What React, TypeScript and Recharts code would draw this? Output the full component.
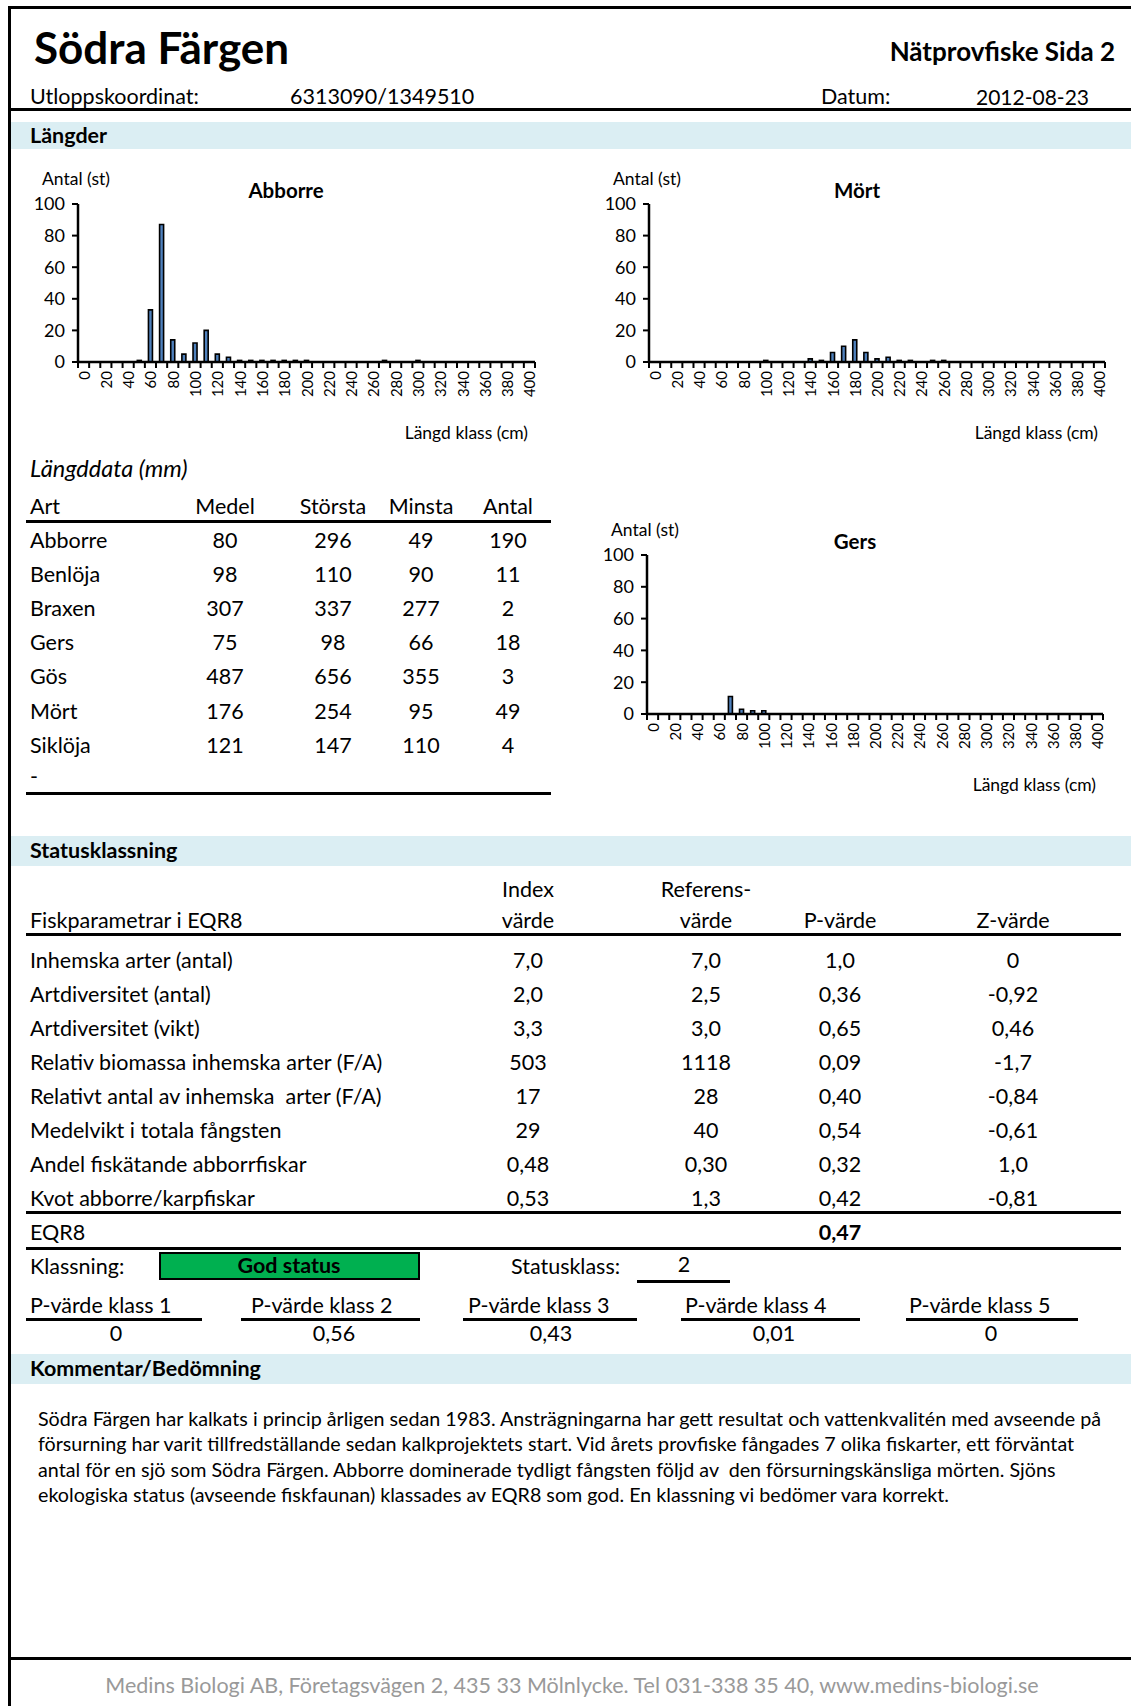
import React from 'react';
import { BarChart, Bar, XAxis, YAxis } from 'recharts';

const FONT = 'Lato, "Open Sans", sans-serif';

// längdklasser (x-axeln)
const lengthClasses = [
  0, 10, 20, 30, 40, 50, 60, 70, 80, 90, 100, 110, 120, 130, 140, 150, 160, 170, 180, 190, 200,
  210, 220, 230, 240, 250, 260, 270, 280, 290, 300, 310, 320, 330, 340, 350, 360, 370, 380, 390, 400,
];

const abborreCounts = [
  0, 0, 0, 0, 0, 1, 33, 87, 14, 5, 12, 20, 5, 3, 1, 1, 1, 1, 1, 1, 1,
  0, 0, 0, 0, 0, 0, 1, 0, 0, 1, 0, 0, 0, 0, 0, 0, 0, 0, 0, 0,
];
const mortCounts = [
  0, 0, 0, 0, 0, 0, 0, 0, 0, 0, 1, 0, 0, 0, 2, 1, 6, 10, 14, 6, 2,
  3, 1, 1, 0, 1, 1, 0, 0, 0, 0, 0, 0, 0, 0, 0, 0, 0, 0, 0, 0,
];
const gersCounts = [
  0, 0, 0, 0, 0, 0, 0, 11, 3, 2, 2, 0, 0, 0, 0, 0, 0, 0, 0, 0, 0,
  0, 0, 0, 0, 0, 0, 0, 0, 0, 0, 0, 0, 0, 0, 0, 0, 0, 0, 0, 0,
];
const yTicks = [0, 20, 40, 60, 80, 100];

// längddata (mm)
const species = ['Abborre', 'Benlöja', 'Braxen', 'Gers', 'Gös', 'Mört', 'Siklöja'];
const medel = [80, 98, 307, 75, 487, 176, 121];
const storsta = [296, 110, 337, 98, 656, 254, 147];
const minsta = [49, 90, 277, 66, 355, 95, 110];
const antal = [190, 11, 2, 18, 3, 49, 4];

// statusklassning
const params = [
  'Inhemska arter (antal)',
  'Artdiversitet (antal)',
  'Artdiversitet (vikt)',
  'Relativ biomassa inhemska arter (F/A)',
  'Relativt antal av inhemska  arter (F/A)',
  'Medelvikt i totala fångsten',
  'Andel fiskätande abborrfiskar',
  'Kvot abborre/karpfiskar',
];
const indexVarde = ['7,0', '2,0', '3,3', '503', '17', '29', '0,48', '0,53'];
const referensVarde = ['7,0', '2,5', '3,0', '1118', '28', '40', '0,30', '1,3'];
const pVarde = ['1,0', '0,36', '0,65', '0,09', '0,40', '0,54', '0,32', '0,42'];
const zVarde = ['0', '-0,92', '0,46', '-1,7', '-0,84', '-0,61', '1,0', '-0,81'];

const pKlassLabels = ['P-värde klass 1', 'P-värde klass 2', 'P-värde klass 3', 'P-värde klass 4', 'P-värde klass 5'];
const pKlassValues = ['0', '0,56', '0,43', '0,01', '0'];

const commentLines = [
  'Södra Färgen har kalkats i princip årligen sedan 1983. Ansträgningarna har gett resultat och vattenkvalitén med avseende på',
  'försurning har varit tillfredställande sedan kalkprojektets start. Vid årets provfiske fångades 7 olika fiskarter, ett förväntat',
  'antal för en sjö som Södra Färgen. Abborre dominerade tydligt fångsten följd av  den försurningskänsliga mörten. Sjöns',
  'ekologiska status (avseende fiskfaunan) klassades av EQR8 som god. En klassning vi bedömer vara korrekt.',
];

const BODY = 21.5;

const Txt = ({ x, y, children, align = 'left', size = BODY, bold = false, italic = false, color = '#000' }: any) => {
  const tx = align === 'center' ? '-50%' : align === 'right' ? '-100%' : '0';
  return (
    <div
      style={{
        position: 'absolute',
        left: x,
        top: y,
        transform: `translate(${tx}, -50%)`,
        fontSize: size,
        fontWeight: bold ? 700 : 400,
        fontStyle: italic ? 'italic' : 'normal',
        color,
        whiteSpace: 'pre',
        lineHeight: 1.2,
      }}
    >
      {children}
    </div>
  );
};

const HLine = ({ x1, x2, y, w = 3 }: any) => (
  <div style={{ position: 'absolute', left: x1, top: y - w / 2, width: x2 - x1, height: w, background: '#000' }} />
);

const Band = ({ y, h, label }: any) => (
  <>
    <div style={{ position: 'absolute', left: 11, top: y, width: 1120, height: h, background: '#DBEEF3' }} />
    <Txt x={30} y={y + h / 2} size={21.5} bold>
      {label}
    </Txt>
  </>
);

interface FishChartProps {
  title: string;
  counts: number[];
  plotLeft: number;
  plotRight: number;
  plotTop: number;
  plotBottom: number;
}

const FishChart: React.FC<FishChartProps> = ({ title, counts, plotLeft, plotRight, plotTop, plotBottom }) => {
  const data = lengthClasses.map((k, i) => ({ klass: k, antal: counts[i] }));
  const plotW = plotRight - plotLeft;
  const half = plotW / lengthClasses.length / 2;
  const width = plotW + 58 + 5;
  const height = plotBottom - plotTop + 24 + 45;

  const LengthTick = (props: any) => {
    const { x, y, payload, index } = props;
    const show = payload.value % 20 === 0;
    return (
      <g>
        <line x1={x - half} x2={x - half} y1={y} y2={y + 6} stroke="#000" strokeWidth={2} />
        {index === lengthClasses.length - 1 && (
          <line x1={x + half} x2={x + half} y1={y} y2={y + 6} stroke="#000" strokeWidth={2} />
        )}
        {show && (
          <text
            x={x}
            y={y + 9}
            transform={`rotate(-90, ${x}, ${y + 9})`}
            textAnchor="end"
            dominantBaseline="central"
            fontSize={15}
            fontFamily={FONT}
            fill="#000"
          >
            {payload.value}
          </text>
        )}
      </g>
    );
  };

  return (
    <>
      <div style={{ position: 'absolute', left: plotLeft - 58, top: plotTop - 24 }}>
        <BarChart
          width={width}
          height={height}
          data={data}
          margin={{ top: 24, right: 5, left: 10, bottom: 0 }}
          barCategoryGap="32%"
        >
          <XAxis
            dataKey="klass"
            interval={0}
            height={45}
            tickLine={false}
            tickSize={0}
            tickMargin={0}
            axisLine={{ stroke: '#000', strokeWidth: 2.5 }}
            tick={LengthTick}
          />
          <YAxis
            width={48}
            domain={[0, 100]}
            ticks={yTicks}
            interval={0}
            tickSize={6}
            tickMargin={7}
            tickLine={{ stroke: '#000', strokeWidth: 2 }}
            axisLine={{ stroke: '#000', strokeWidth: 2.5 }}
            tick={{ fill: '#000', fontSize: 18, fontFamily: FONT }}
          />
          <Bar dataKey="antal" fill="#4F81BD" stroke="#000" strokeWidth={1.6} isAnimationActive={false} />
        </BarChart>
      </div>
      <Txt x={plotLeft - 36} y={plotTop - 26} size={17.5}>
        Antal (st)
      </Txt>
      <Txt x={plotLeft + 208} y={plotTop - 14} size={20.5} bold align="center">
        {title}
      </Txt>
      <Txt x={plotRight - 7} y={plotBottom + 70} size={17.5} align="right">
        Längd klass (cm)
      </Txt>
    </>
  );
};

const colX = { medel: 225, storsta: 333, minsta: 421, antal: 508 };
const statX = { index: 528, ref: 706, p: 840, z: 1013 };
const pKlassX = [30, 251, 468, 685, 909];
const pKlassLine = [
  [26, 202],
  [241, 420],
  [463, 637],
  [681, 860],
  [906, 1078],
];
const pKlassValX = [116, 334, 551, 774, 991];

export default function App() {
  return (
    <div
      style={{
        position: 'absolute',
        left: 0,
        top: 0,
        width: 1131,
        height: 1706,
        background: '#fff',
        fontFamily: FONT,
        overflow: 'hidden',
      }}
    >
      {/* ram */}
      <div style={{ position: 'absolute', left: 8, top: 6, width: 1123, height: 3, background: '#000' }} />
      <div style={{ position: 'absolute', left: 8, top: 6, width: 3, height: 1700, background: '#000' }} />

      {/* rubrik */}
      <Txt x={34} y={47} size={44} bold>
        Södra Färgen
      </Txt>
      <Txt x={1115} y={52} size={26} bold align="right">
        Nätprovfiske Sida 2
      </Txt>
      <Txt x={30} y={97}>
        Utloppskoordinat:
      </Txt>
      <Txt x={290} y={97}>
        6313090/1349510
      </Txt>
      <Txt x={821} y={97}>
        Datum:
      </Txt>
      <Txt x={1089} y={97} size={21} align="right">
        2012-08-23
      </Txt>
      <HLine x1={8} x2={1131} y={109} w={3} />

      <Band y={122} h={27} label="Längder" />

      <FishChart title="Abborre" counts={abborreCounts} plotLeft={78} plotRight={535} plotTop={204} plotBottom={362} />
      <FishChart title="Mört" counts={mortCounts} plotLeft={649} plotRight={1105} plotTop={204} plotBottom={362} />
      <FishChart title="Gers" counts={gersCounts} plotLeft={647} plotRight={1103} plotTop={555} plotBottom={714} />

      {/* längddata */}
      <Txt x={30} y={468} size={23.5} italic>
        Längddata (mm)
      </Txt>
      <Txt x={30} y={507}>
        Art
      </Txt>
      <Txt x={colX.medel} y={507} align="center">
        Medel
      </Txt>
      <Txt x={colX.storsta} y={507} align="center">
        Största
      </Txt>
      <Txt x={colX.minsta} y={507} align="center">
        Minsta
      </Txt>
      <Txt x={colX.antal} y={507} align="center">
        Antal
      </Txt>
      <HLine x1={26} x2={551} y={521} w={3} />
      {species.map((s, i) => {
        const y = 541 + i * 34.1;
        return (
          <React.Fragment key={s}>
            <Txt x={30} y={y}>
              {s}
            </Txt>
            <Txt x={colX.medel} y={y} align="center">
              {medel[i]}
            </Txt>
            <Txt x={colX.storsta} y={y} align="center">
              {storsta[i]}
            </Txt>
            <Txt x={colX.minsta} y={y} align="center">
              {minsta[i]}
            </Txt>
            <Txt x={colX.antal} y={y} align="center">
              {antal[i]}
            </Txt>
          </React.Fragment>
        );
      })}
      <Txt x={30} y={777}>
        -
      </Txt>
      <HLine x1={26} x2={551} y={793} w={3} />

      {/* statusklassning */}
      <Band y={836} h={30} label="Statusklassning" />
      <Txt x={statX.index} y={890} align="center">
        Index
      </Txt>
      <Txt x={statX.ref} y={890} align="center">
        Referens-
      </Txt>
      <Txt x={30} y={921}>
        Fiskparametrar i EQR8
      </Txt>
      <Txt x={statX.index} y={921} align="center">
        värde
      </Txt>
      <Txt x={statX.ref} y={921} align="center">
        värde
      </Txt>
      <Txt x={statX.p} y={921} align="center">
        P-värde
      </Txt>
      <Txt x={statX.z} y={921} align="center">
        Z-värde
      </Txt>
      <HLine x1={26} x2={1121} y={934} w={3} />
      {params.map((p, i) => {
        const y = 961 + i * 34.05;
        return (
          <React.Fragment key={p}>
            <Txt x={30} y={y}>
              {p}
            </Txt>
            <Txt x={statX.index} y={y} align="center">
              {indexVarde[i]}
            </Txt>
            <Txt x={statX.ref} y={y} align="center">
              {referensVarde[i]}
            </Txt>
            <Txt x={statX.p} y={y} align="center">
              {pVarde[i]}
            </Txt>
            <Txt x={statX.z} y={y} align="center">
              {zVarde[i]}
            </Txt>
          </React.Fragment>
        );
      })}
      <HLine x1={26} x2={1121} y={1212} w={3} />
      <Txt x={30} y={1233}>
        EQR8
      </Txt>
      <Txt x={statX.p} y={1233} bold align="center">
        0,47
      </Txt>
      <HLine x1={26} x2={1121} y={1248} w={3} />

      <Txt x={30} y={1267}>
        Klassning:
      </Txt>
      <div
        style={{
          position: 'absolute',
          left: 159,
          top: 1252,
          width: 261,
          height: 28,
          boxSizing: 'border-box',
          border: '2px solid #000',
          background: '#00B050',
        }}
      />
      <Txt x={289} y={1266} size={21.5} bold align="center">
        God status
      </Txt>
      <Txt x={511} y={1267}>
        Statusklass:
      </Txt>
      <Txt x={684} y={1265} align="center">
        2
      </Txt>
      <HLine x1={637} x2={730} y={1281} w={3} />

      {pKlassLabels.map((l, i) => (
        <React.Fragment key={l}>
          <Txt x={pKlassX[i]} y={1306}>
            {l}
          </Txt>
          <HLine x1={pKlassLine[i][0]} x2={pKlassLine[i][1]} y={1319} w={3} />
          <Txt x={pKlassValX[i]} y={1334} align="center">
            {pKlassValues[i]}
          </Txt>
        </React.Fragment>
      ))}

      <Band y={1354} h={30} label="Kommentar/Bedömning" />
      {commentLines.map((l, i) => (
        <Txt key={i} x={38} y={1419 + i * 25.4} size={19.7}>
          {l}
        </Txt>
      ))}

      <HLine x1={8} x2={1131} y={1658} w={3} />
      <Txt x={572} y={1686} size={21.5} color="#999" align="center">
        Medins Biologi AB, Företagsvägen 2, 435 33 Mölnlycke. Tel 031-338 35 40, www.medins-biologi.se
      </Txt>
    </div>
  );
}
